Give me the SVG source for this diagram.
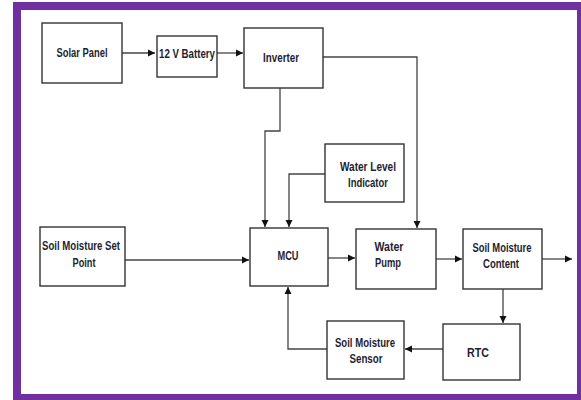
<svg xmlns="http://www.w3.org/2000/svg" width="581" height="400" viewBox="0 0 581 400">
<defs>
<marker id="ah" markerWidth="8" markerHeight="8" refX="7" refY="4" orient="auto" markerUnits="userSpaceOnUse">
<path d="M0,0.5 L7,4 L0,7.5 Z" fill="#111"/>
</marker>
<style>
.box{fill:#fff;stroke:#333;stroke-width:1.4}
.t{font-family:"Liberation Sans",Arial,sans-serif;font-weight:bold;font-size:12px;fill:#1e1e30;text-anchor:middle}
.c{fill:none;stroke:#444;stroke-width:1.3}
.a{marker-end:url(#ah)}
</style>
</defs>
<rect x="13" y="2" width="568" height="398" fill="#7030a0"/>
<rect x="21" y="10" width="556" height="384" fill="#fff"/>
<g id="connectors">
<path class="c a" d="M122,53 H155"/>
<path class="c a" d="M217,53 H243"/>
<path class="c a" d="M280,88 V131 H265 V227"/>
<path class="c a" d="M323,57 H417 V228"/>
<path class="c a" d="M325,174 H289 V227"/>
<path class="c a" d="M125,260 H249"/>
<path class="c a" d="M328,258 H355"/>
<path class="c a" d="M436,259 H462"/>
<path class="c a" d="M542,259 H572"/>
<path class="c a" d="M503,289 V323"/>
<path class="c a" d="M443,349 H405"/>
<path class="c a" d="M327,349 H288 V287"/>
</g>
<g id="solar-panel"><rect class="box" x="42" y="23" width="80" height="60"/><text class="t" x="82" y="57" textLength="51" lengthAdjust="spacingAndGlyphs">Solar Panel</text></g>
<g id="battery"><rect class="box" x="157" y="36" width="60" height="41"/><text class="t" x="187" y="58" textLength="56" lengthAdjust="spacingAndGlyphs">12 V Battery</text></g>
<g id="inverter"><rect class="box" x="244" y="28" width="79" height="60"/><text class="t" x="281" y="62" textLength="36" lengthAdjust="spacingAndGlyphs">Inverter</text></g>
<g id="water-level"><rect class="box" x="325" y="144" width="79" height="58"/><text class="t" x="368" y="171" textLength="56" lengthAdjust="spacingAndGlyphs">Water Level</text><text class="t" x="368" y="187" textLength="40" lengthAdjust="spacingAndGlyphs">Indicator</text></g>
<g id="set-point"><rect class="box" x="40" y="227" width="85" height="59"/><text class="t" x="81" y="250" textLength="78" lengthAdjust="spacingAndGlyphs">Soil Moisture Set</text><text class="t" x="84" y="267" textLength="23" lengthAdjust="spacingAndGlyphs">Point</text></g>
<g id="mcu"><rect class="box" x="250" y="228" width="78" height="58"/><text class="t" x="288" y="260" textLength="21" lengthAdjust="spacingAndGlyphs">MCU</text></g>
<g id="water-pump"><rect class="box" x="356" y="229" width="80" height="60"/><text class="t" x="389" y="251" textLength="29" lengthAdjust="spacingAndGlyphs">Water</text><text class="t" x="388" y="267" textLength="26" lengthAdjust="spacingAndGlyphs">Pump</text></g>
<g id="soil-moisture-content"><rect class="box" x="463" y="229" width="79" height="60"/><text class="t" x="502" y="252" textLength="59" lengthAdjust="spacingAndGlyphs">Soil Moisture</text><text class="t" x="501" y="268" textLength="36" lengthAdjust="spacingAndGlyphs">Content</text></g>
<g id="rtc"><rect class="box" x="443" y="324" width="77" height="56"/><text class="t" x="478" y="357" textLength="22" lengthAdjust="spacingAndGlyphs">RTC</text></g>
<g id="soil-moisture-sensor"><rect class="box" x="327" y="321" width="77" height="58"/><text class="t" x="365" y="347" textLength="60" lengthAdjust="spacingAndGlyphs">Soil Moisture</text><text class="t" x="366" y="363" textLength="33" lengthAdjust="spacingAndGlyphs">Sensor</text></g>
</svg>
